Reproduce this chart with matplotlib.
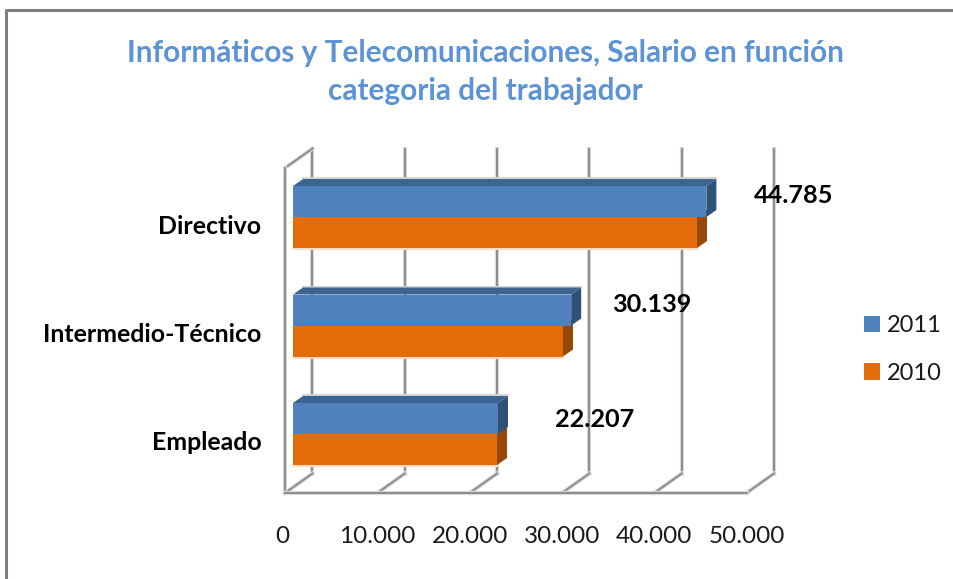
import matplotlib
matplotlib.use('Agg')
import matplotlib.pyplot as plt
from matplotlib.lines import Line2D
from matplotlib.patches import Polygon
from matplotlib.transforms import ScaledTranslation
import matplotlib.patheffects as pe

categories = ['Empleado', 'Intermedio-Técnico', 'Directivo']
values_2011 = [22207, 30139, 44785]
values_2010 = [22100, 29250, 43770]
value_labels = ['22.207', '30.139', '44.785']
x_ticks = [0, 10000, 20000, 30000, 40000, 50000]
x_tick_labels = ['0', '10.000', '20.000', '30.000', '40.000', '50.000']

W, H = 954, 579
plt.rcParams['font.family'] = ['Lato', 'DejaVu Sans']

BLUE, BLUE_TOP, BLUE_SIDE = '#4F81BD', '#3C6491', '#2F5078'
ORANGE, ORANGE_SIDE = '#E46C0A', '#974706'
GRID = '#8E8E8E'

fig = plt.figure(figsize=(W / 100, H / 100), dpi=100)

# axes = front plane of the 3D box, pixel positions
left, right, top, bottom = 285, 746.5, 168, 493
ax = fig.add_axes([left / W, 1 - bottom / H, (right - left) / W, (bottom - top) / H])
ax.set_xlim(0, 50000)
ax.set_ylim(-0.544, 2.452)
ax.patch.set_visible(False)

px_x = 50000 / (right - left)
px_y = (2.452 + 0.544) / (bottom - top)


def wall_line(xs, ys):
    ax.plot(xs, ys, color=GRID, lw=1.5, clip_on=False, zorder=1, solid_capstyle='projecting',
            path_effects=[pe.withStroke(linewidth=3, foreground='#DEDEDE')])


# back wall, floor and side wall
wall_dx = 27.5 * px_x
wall_dy = 19.5 * px_y
y_lo, y_hi = ax.get_ylim()
for t in x_ticks:
    wall_line([t + wall_dx, t + wall_dx], [y_lo + wall_dy, y_hi + wall_dy])
    wall_line([t, t + wall_dx], [y_lo, y_lo + wall_dy])
wall_line([0, wall_dx], [y_hi, y_hi + wall_dy])
wall_line([0, 0], [y_lo, y_hi])
wall_line([0, 50000], [y_lo, y_lo])

# bars, two faces of depth added by hand
bar_h = 31 * px_y
offset = 8 * px_x
depth_x = 10 * px_x
depth_y = 7 * px_y


def box(value, y0, top_color, side_color, z):
    end = offset + value
    ax.add_patch(Polygon([(end, y0), (end + depth_x, y0 + depth_y), (end + depth_x, y0 + bar_h + depth_y),
                          (end, y0 + bar_h)], color=side_color, lw=0, zorder=z))
    if top_color:
        ax.add_patch(Polygon([(offset, y0 + bar_h), (offset + depth_x, y0 + bar_h + depth_y),
                              (end + depth_x, y0 + bar_h + depth_y), (end, y0 + bar_h)],
                             color=top_color, lw=0, zorder=z))


for i in range(len(categories)):
    # soft shadows along the bar edges
    ax.plot([offset, offset + values_2010[i]], [i - bar_h - px_y] * 2, color='#F8DCC6', lw=1.5, zorder=2)
    ax.plot([offset + depth_x, offset + values_2011[i] + depth_x], [i + bar_h + depth_y + px_y] * 2,
            color='#D4D4D4', lw=1.5, zorder=2)
    box(values_2010[i], i - bar_h, None, ORANGE_SIDE, 2)
    box(values_2011[i], i, BLUE_TOP, BLUE_SIDE, 3)

b1 = ax.barh(range(3), values_2011, height=bar_h, left=offset, align='edge', color=BLUE, zorder=4, label='2011')
b2 = ax.barh(range(3), values_2010, height=-bar_h, left=offset, align='edge', color=ORANGE, zorder=4, label='2010')

# data labels sit well away from the bars in the original
label_dx = [57, 41, 48]
label_dy = [14, 21.5, 22]
for i, txt in enumerate(value_labels):
    ax.text(offset + values_2011[i] + label_dx[i] * px_x, i + label_dy[i] * px_y, txt, fontsize=18.2,
            fontweight='bold', color='black', ha='left', va='center', zorder=6)

for side in ['left', 'right', 'top', 'bottom']:
    ax.spines[side].set_visible(False)
ax.set_xticks(x_ticks)
ax.set_xticklabels(x_tick_labels, fontsize=17.5, color='#1A1A1A')
ax.tick_params(axis='x', length=0, pad=24)
zero_lab = ax.get_xticklabels()[0]
zero_lab.set_transform(zero_lab.get_transform() + ScaledTranslation(-3 * 0.72 / 72, 0, fig.dpi_scale_trans))
ax.set_yticks(range(3))
ax.set_yticklabels(categories, fontsize=17.9, fontweight='bold', color='black')
ax.tick_params(axis='y', length=0, pad=17)
for lab in ax.get_yticklabels():
    lab.set_transform(lab.get_transform() + ScaledTranslation(0, -7 * 0.72 / 72, fig.dpi_scale_trans))

fig.text(485.5 / W, 1 - 53 / H, 'Informáticos y Telecomunicaciones, Salario en función', fontsize=21.4,
         fontweight='bold', color='#5B93D6', ha='center', va='center')
fig.text(485.5 / W, 1 - 91 / H, 'categoria del trabajador', fontsize=21.4, fontweight='bold',
         color='#5B93D6', ha='center', va='center')

fig.legend(handles=[b1, b2], loc='upper left', bbox_to_anchor=(864 / W, 1 - 315 / H), frameon=False, fontsize=17,
           handlelength=0.68, handleheight=0.68, handletextpad=0.3, labelspacing=1.13, borderpad=0,
           borderaxespad=0, labelcolor='#1A1A1A')

# outer chart border, only top and left fall inside the image
fig.add_artist(Line2D([6.5 / W, 6.5 / W, 1], [0, 1 - 10 / H, 1 - 10 / H], color='#7F7F7F', lw=2.2))

fig.savefig('out.png', dpi=100)
